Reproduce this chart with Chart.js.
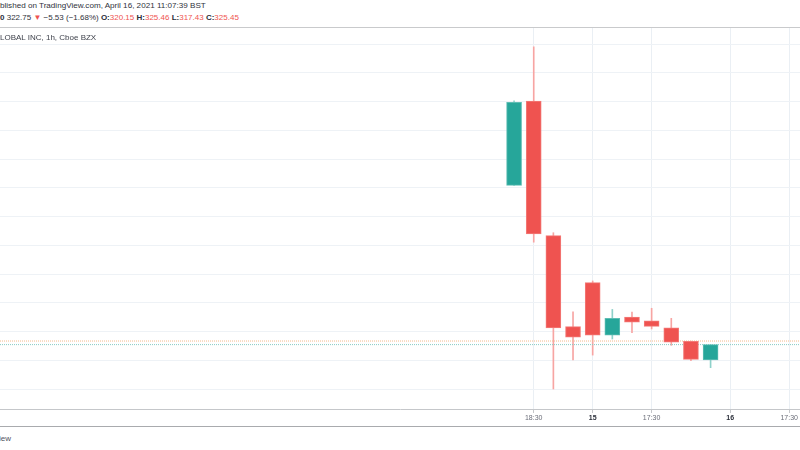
<!DOCTYPE html>
<html>
<head>
<meta charset="utf-8">
<script src="https://cdn.jsdelivr.net/npm/chart.js@4.4.0/dist/chart.umd.min.js"></script>
<style>
body { margin:0; width:800px; height:450px; overflow:hidden; background:#fff; font-family:"Liberation Sans", Arial, sans-serif; position:relative; }
.txt { position:absolute; left:0; font-size:8px; line-height:10px; white-space:nowrap; color:#2f323b; }
#hdr1 { top:1px; font-size:8.1px; }
#hdr2 { top:13px; }
#title { top:33px; color:#3f424c; z-index:2; }
#sep { position:absolute; left:0; top:27px; width:800px; height:1px; background:#c9cacc; }
#wrap { position:absolute; left:0; top:28px; width:800px; height:398px; border-bottom:1px solid #a9abae; }
#brand { position:absolute; right:789px; top:434px; font-size:8px; line-height:10px; color:#50535e; white-space:nowrap; }
.dn { color:#ef5350; }
b { color:#2a2e39; }
</style>
</head>
<body>
<div id="hdr1" class="txt">blished on TradingView.com, April 16, 2021 11:07:39 BST</div>
<div id="hdr2" class="txt"></div>
<div id="sep"></div>
<div id="title" class="txt">LOBAL INC, 1h, Cboe BZX</div>
<div id="wrap"><canvas id="myChart"></canvas></div>
<div id="brand">TradingView</div>
<script>
// hourly bars, April 14-15 2021
var barTimes = ['14 17:30','14 18:30','14 19:30','14 20:30','15 14:30','15 15:30','15 16:30','15 17:30','15 18:30','15 19:30','15 20:30']
var opens  = [380.9, 410.2, 363.4, 331.7, 347.0, 328.7, 335.0, 333.7, 331.3, 326.6, 320.15]
var highs  = [410.3, 429.1, 364.4, 336.9, 347.6, 337.7, 336.8, 338.1, 334.6, 326.7, 325.46]
var lows   = [380.9, 361.1, 310.0, 320.1, 321.8, 327.4, 329.6, 330.9, 325.2, 319.9, 317.43]
var closes = [409.8, 364.0, 331.3, 328.0, 328.7, 334.6, 333.3, 331.8, 326.3, 320.3, 325.45]

// time axis labels (bar slot -> text)
var tickSlots = [1, 4, 7, 11, 14]
var tickText = ['18:30', '15', '17:30', '16', '17:30']
var dayTicks = ['15', '16']

var priceSteps = 10
var lastPrice = 325.45
var otherPrice = 326.7
var dayClose = 322.75
var dayChange = -5.53
var dayPct = -1.68

var up = '#26a69a'
var down = '#ef5350'

function header(){
    var i = closes.length - 1
    var h = '<b>0</b> ' + dayClose.toFixed(2) + ' <span class="dn">▼</span> −' + Math.abs(dayChange).toFixed(2) +
        ' (−' + Math.abs(dayPct).toFixed(2) + '%) ' +
        '<b>O:</b><span class="dn">' + opens[i].toFixed(2) + '</span> ' +
        '<b>H:</b><span class="dn">' + highs[i].toFixed(2) + '</span> ' +
        '<b>L:</b><span class="dn">' + lows[i].toFixed(2) + '</span> ' +
        '<b>C:</b><span class="dn">' + closes[i].toFixed(2) + '</span>'
    document.getElementById('hdr2').innerHTML = h
}

function labelOf(c){
    if(!c || !c.tick) return ''
    var k = tickSlots.indexOf(c.tick.value)
    return k >= 0 ? tickText[k] : ''
}

function chart(){
    var bodies = []
    var wicks = []
    for(var i=0;i<barTimes.length;i++){
        bodies.push({x: i, y: [opens[i], closes[i]]})
        wicks.push({x: i, y: [lows[i], highs[i]]})
    }
    var xMin = -26.16
    var xMax = 14.55

    var ctx = document.getElementById('myChart')
    new Chart(ctx, {
        type: 'bar',
        data: {
            datasets: [{
                label: 'body',
                data: bodies,
                order: 1,
                grouped: false,
                barThickness: 15,
                borderSkipped: false,
                borderWidth: 1,
                backgroundColor: function(c){ return closes[c.dataIndex] >= opens[c.dataIndex] ? up : down },
                borderColor: function(c){ return closes[c.dataIndex] >= opens[c.dataIndex] ? '#5dbdb3' : '#f37a77' }
            }, {
                label: 'wick',
                data: wicks,
                order: 3,
                grouped: false,
                barThickness: 1,
                borderWidth: 0,
                backgroundColor: function(c){ return closes[c.dataIndex] >= opens[c.dataIndex] ? '#8ed1ca' : '#f7a5a3' }
            }, {
                type: 'line',
                label: 'last',
                data: [{x: xMin, y: lastPrice}, {x: xMax, y: lastPrice}],
                order: 2,
                borderColor: '#86cbc4',
                borderWidth: 1,
                borderDash: [1, 1],
                pointRadius: 0
            }, {
                type: 'line',
                label: 'other',
                data: [{x: xMin, y: otherPrice}, {x: xMax, y: otherPrice}],
                order: 2,
                borderColor: '#f5b98c',
                borderWidth: 1,
                borderDash: [1, 1],
                pointRadius: 0
            }]
        },
        options: {
            responsive: true,
            maintainAspectRatio: false,
            animation: false,
            layout: { padding: 0 },
            plugins: { legend: { display: false }, tooltip: { enabled: false } },
            scales: {
                x: {
                    type: 'linear',
                    min: xMin,
                    max: xMax,
                    offset: false,
                    afterBuildTicks: function(axis){
                        axis.ticks = tickSlots.map(function(v){ return {value: v} })
                    },
                    afterFit: function(axis){ axis.height = 17 },
                    border: { display: true, color: '#c5c7ca', width: 1 },
                    grid: { offset: false, color: '#eaeff4', tickColor: '#c5c7ca', tickLength: 4, drawTicks: true },
                    ticks: {
                        padding: 1,
                        maxRotation: 0,
                        autoSkip: false,
                        color: function(c){ return dayTicks.indexOf(labelOf(c)) >= 0 ? '#2a2e39' : '#6a6d78' },
                        font: function(c){
                            return { family: '"Liberation Sans", Arial, sans-serif', size: 7, weight: dayTicks.indexOf(labelOf(c)) >= 0 ? 'bold' : 'normal' }
                        },
                        callback: function(v){ var k = tickSlots.indexOf(v); return k >= 0 ? tickText[k] : '' }
                    }
                },
                y: {
                    min: 303.04,
                    max: 435.65,
                    afterFit: function(axis){ axis.width = 0 },
                    border: { display: false },
                    grid: { color: '#eef2f6', drawTicks: false },
                    ticks: { display: false, stepSize: priceSteps, includeBounds: false }
                }
            }
        }
    })
}

header()
chart()
</script>
</body>
</html>
